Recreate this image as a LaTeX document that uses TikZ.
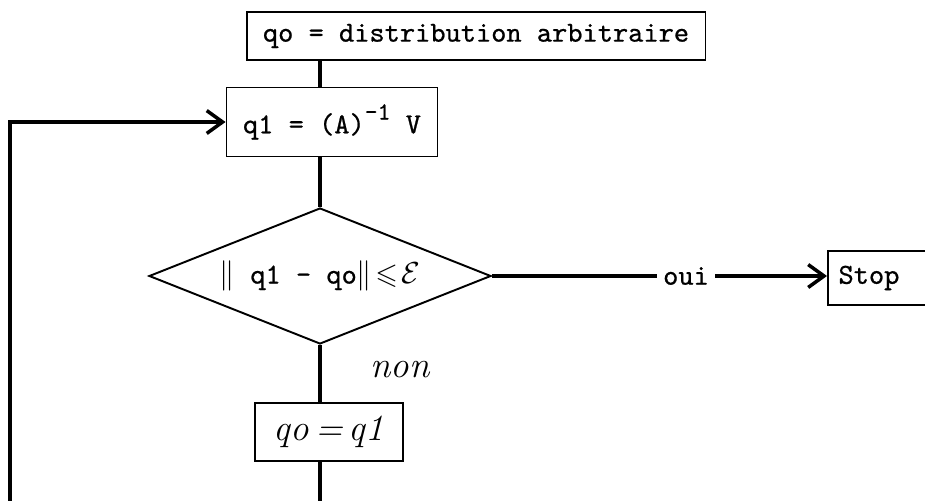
\documentclass[tikz,border=0pt]{standalone}
\usepackage{amssymb}
\usepackage{fontspec}
\setmonofont{lmmono10-regular.otf}[FakeBold=0.7]
\usetikzlibrary{shapes.geometric, arrows.meta}

\newcommand{\typefont}{\fontsize{16.5}{19}\selectfont\ttfamily\bfseries}
\newcommand{\handfont}{\fontsize{21}{24}\selectfont\itshape}

\begin{document}
\begin{tikzpicture}[x=0.02cm, y=-0.02cm,
    % Define the styles of the boxes and the lines
    box/.style={draw, line width=1.1pt, font=\typefont, inner sep=0pt},
    test/.style={diamond, draw, line width=1.1pt, aspect=2.5, inner sep=0pt, font=\typefont},
    flow/.style={line width=2.4pt},
    link/.style={flow, -{Straight Barb[length=9pt, width=13pt, line width=2pt]}}
]
\useasboundingbox (0,0) rectangle (925,500);

% Define the boxes
\node[box, minimum width=9.18cm, minimum height=0.96cm] (init) at (476,36) {qo = distribution arbitraire};
\node[box, minimum width=4.22cm, minimum height=1.38cm] (calc) at (332,122)
    {q1 = (A)\raisebox{1.1ex}{\fontsize{14}{16}\selectfont -1} V};
\node[test, minimum width=6.84cm, minimum height=2.72cm] (test) at (320,276)
    {$\Big\|$ q1 - qo$\Big\|\!\leqslant\!\mathcal{E}$};
\node[box, anchor=west, minimum height=1.08cm, text width=2.6cm, inner xsep=6pt] (stop) at (827,278) {Stop};
\node[box, minimum width=2.96cm, minimum height=1.16cm, font=\handfont] (update) at (329,432) {qo\,=\,q1};

% Add the labels
\node[font=\typefont] (oui) at (686,276) {oui};
\node[font=\handfont] (non) at (400,370) {non};

% Point below the picture for the loop back
\coordinate (loop) at (10,540);

% Draw the lines
\draw[flow] (init.south -| test.north) -- (calc.north -| test.north);
\draw[flow] (test.north) -- (test.north |- calc.south);
\draw[flow] (test.east) -- (oui.west);
\draw[link] (oui.east) -- (oui.east -| stop.west);
\draw[flow] (test.south) -- (test.south |- update.north);

% Draw the loop back
\draw[flow] (update.south -| test.south) |- (loop);
\draw[link] (loop) |- (calc.west);

\end{tikzpicture}
\end{document}
